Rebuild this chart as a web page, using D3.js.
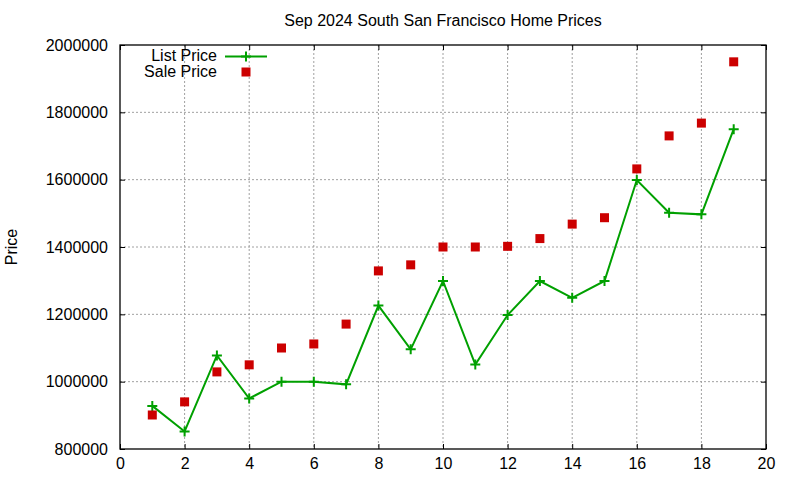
<!DOCTYPE html>
<html><head><meta charset="utf-8">
<script src="https://cdn.jsdelivr.net/npm/d3@7"></script>
<style>body{margin:0;background:#fff}svg{display:block;font-family:"Liberation Sans",Arial,sans-serif}</style>
</head><body><svg id="c" width="800" height="480"></svg>
<script>
const months = [1,2,3,4,5,6,7,8,9,10,11,12,13,14,15,16,17,18,19];
const listPrice = [928000,852000,1078000,950000,1000000,1000000,992000,1226000,1096000,1299000,1051000,1198000,1299000,1249000,1299000,1599000,1502000,1497000,1750000];
const salePrice = [901000,940000,1029000,1050000,1100000,1112000,1171000,1329000,1347000,1400000,1400000,1402000,1425000,1468000,1487000,1632000,1730000,1768000,1950000];
const xTicks = [0,2,4,6,8,10,12,14,16,18,20];
const yTicks = [800000,1000000,1200000,1400000,1600000,1800000,2000000];
const title = "Sep 2024 South San Francisco Home Prices";

const svg = d3.select("#c");
const L=120, R=766, T=45, B=449;
const x = d3.scaleLinear().domain([0,20]).range([L,R]);
const y = d3.scaleLinear().domain([800000,2000000]).range([B,T]);
const green="#00a000", red="#cc0000", fs=16;

// grid
const grid = svg.append("g").attr("stroke","#a0a0a0").attr("stroke-width",1).attr("stroke-dasharray","2,2");
xTicks.slice(1,-1).forEach(t=>grid.append("line").attr("x1",x(t)).attr("x2",x(t)).attr("y1",T).attr("y2",B));
yTicks.slice(1,-1).forEach(t=>grid.append("line").attr("x1",L).attr("x2",R).attr("y1",y(t)).attr("y2",y(t)));

// axes with inward ticks, mirrored
const ax = (gen, tr) => svg.append("g").attr("transform",tr).call(gen)
  .call(g=>g.select(".domain").remove());
ax(d3.axisLeft(y).tickValues(yTicks).tickSize(-5).tickPadding(12).tickFormat(d3.format("d")), `translate(${L},0)`);
ax(d3.axisRight(y).tickValues(yTicks).tickSize(-5).tickFormat(""), `translate(${R},0)`);
ax(d3.axisBottom(x).tickValues(xTicks).tickSize(-5).tickPadding(9).tickFormat(d3.format("d")), `translate(0,${B})`);
ax(d3.axisTop(x).tickValues(xTicks).tickSize(-5).tickFormat(""), `translate(0,${T})`);
svg.selectAll(".tick line").attr("stroke","#000").attr("stroke-width",1);
svg.selectAll(".tick text").attr("font-size",fs).attr("font-family","Liberation Sans, Arial, sans-serif").attr("fill","#000");

// border
svg.append("rect").attr("x",L).attr("y",T).attr("width",R-L).attr("height",B-T)
  .attr("fill","none").attr("stroke","#000").attr("stroke-width",1.3);

// title & label
svg.append("text").attr("x",(L+R)/2).attr("y",26).attr("text-anchor","middle").attr("font-size",fs).text(title);
svg.append("text").attr("transform","translate(17,247) rotate(-90)").attr("text-anchor","middle").attr("font-size",fs).text("Price");

const data = months.map((m,i)=>({m, l:listPrice[i], s:salePrice[i]}));
// list line
svg.append("path").datum(data).attr("fill","none").attr("stroke",green).attr("stroke-width",2)
  .attr("d", d3.line().x(d=>x(d.m)).y(d=>y(d.l)));
const plus = (g,cx,cy)=>g.append("path").attr("d",`M${cx-5},${cy}H${cx+5}M${cx},${cy-5}V${cy+5}`)
  .attr("stroke",green).attr("stroke-width",2).attr("fill","none");
const pg = svg.append("g");
data.forEach(d=>plus(pg,x(d.m),y(d.l)));
// sale squares
svg.append("g").selectAll("rect").data(data).join("rect")
  .attr("x",d=>x(d.m)-4.5).attr("y",d=>y(d.s)-4.5).attr("width",9).attr("height",9).attr("fill",red);

// legend
svg.append("text").attr("x",217).attr("y",60.5).attr("text-anchor","end").attr("font-size",fs).text("List Price");
svg.append("text").attr("x",217).attr("y",76.5).attr("text-anchor","end").attr("font-size",fs).text("Sale Price");
svg.append("line").attr("x1",225).attr("x2",267).attr("y1",56.5).attr("y2",56.5).attr("stroke",green).attr("stroke-width",2);
plus(svg,246,56.5);
svg.append("rect").attr("x",246-4.5).attr("y",72-4.5).attr("width",9).attr("height",9).attr("fill",red);
</script></body></html>
